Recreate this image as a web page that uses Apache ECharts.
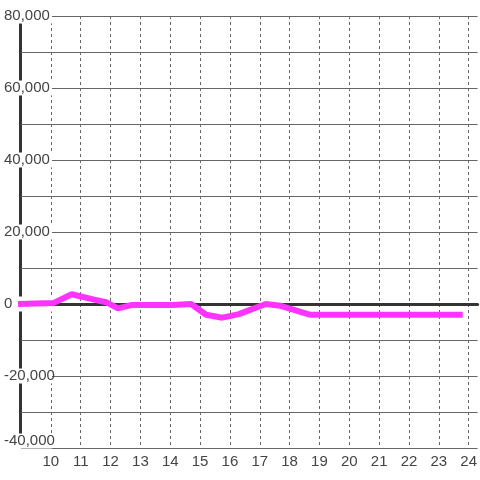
<!DOCTYPE html>
<html>
<head>
<meta charset="utf-8">
<script src="https://cdn.jsdelivr.net/npm/echarts@6/dist/echarts.min.js"></script>
<style>
html, body { margin: 0; padding: 0; background: #fff; }
#chart { width: 480px; height: 480px; }
</style>
</head>
<body>
<div id="chart"></div>
<script>
// x positions (hour) and values
var hours = [8.9, 10.1, 10.7, 11.45, 11.85, 12.25, 12.7, 14.1, 14.7, 15.2, 15.75, 16.3, 17.2, 17.7, 18.7, 23.8];
var values = [0, 300, 2700, 1200, 500, -1200, -300, -300, 0, -3000, -3800, -2800, 0, -500, -3000, -3000];

var yMin = -40000, yMax = 80000, yStep = 20000;
var xMin = 9, xMax = 24.3;

var chart = echarts.init(document.getElementById('chart'));
chart.setOption({
    animation: false,
    textStyle: { fontFamily: 'Liberation Sans' },
    grid: [
        { left: 21, right: -1, top: 16, bottom: 32 },
        // only used to hold the short thick y-axis line
        { left: 20, top: 24, height: 413, width: 10 }
    ],
    xAxis: [{
        type: 'value',
        min: xMin,
        max: xMax,
        interval: 1,
        axisLine: { show: false },
        axisTick: { show: false },
        axisLabel: {
            showMinLabel: false,
            showMaxLabel: false,
            fontSize: 15,
            color: '#444',
            margin: 6,
            formatter: function (v) { return Number.isInteger(v) ? String(v) : ''; }
        },
        splitLine: {
            show: true,
            showMinLine: false,
            showMaxLine: false,
            lineStyle: { color: '#666', width: 1, type: [3, 3] }
        }
    }, {
        type: 'value',
        min: xMin,
        max: xMax,
        z: 1,
        axisLine: { show: true, onZero: true, onZeroAxisIndex: 0, lineStyle: { color: '#333', width: 3 } },
        axisTick: { show: false },
        axisLabel: { show: false },
        splitLine: { show: false }
    }, {
        type: 'value',
        gridIndex: 1,
        show: false
    }],
    yAxis: [{
        type: 'value',
        min: yMin,
        max: yMax,
        interval: yStep,
        z: 1,
        axisLine: { show: false },
        axisTick: { show: false },
        axisLabel: {
            align: 'left',
            margin: 17,
            fontSize: 15,
            color: '#444',
            formatter: function (v) {
                var s = echarts.format.addCommas(v);
                if (v === yMin) return '{v|' + s + '}\n{s|}';
                return '{v|' + s + '}';
            },
            rich: {
                v: { fontSize: 15, color: '#444', backgroundColor: '#fff', width: 48, align: 'left' },
                s: { height: 14 }
            }
        },
        splitLine: { show: true, lineStyle: { color: '#666', width: 1 } },
        minorSplitLine: { show: true, lineStyle: { color: '#666', width: 1 } },
        minorTick: { show: false, splitNumber: 2 }
    }, {
        type: 'value',
        gridIndex: 1,
        z: 0,
        axisLine: { show: true, lineStyle: { color: '#333', width: 3 } },
        axisTick: { show: false },
        axisLabel: { show: false },
        splitLine: { show: false }
    }],
    series: [{
        type: 'line',
        xAxisIndex: 0,
        yAxisIndex: 0,
        data: hours.map(function (h, i) { return [h, values[i]]; }),
        showSymbol: false,
        clip: false,
        lineStyle: { color: '#ff33ff', width: 6 },
        z: 2
    }]
});
</script>
</body>
</html>
